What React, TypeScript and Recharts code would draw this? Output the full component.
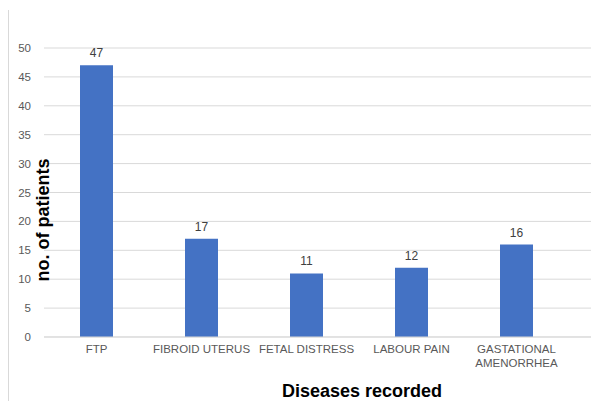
import React from 'react';
import { Bar, BarChart, CartesianGrid, LabelList, XAxis, YAxis } from 'recharts';

const diseases = ['FTP', 'FIBROID UTERUS', 'FETAL DISTRESS', 'LABOUR PAIN', 'GASTATIONAL\nAMENORRHEA'];
const patients = [47, 17, 11, 12, 16];
const yTicks = [0, 5, 10, 15, 20, 25, 30, 35, 40, 45, 50];

const data = diseases.map((name, i) => ({ name, value: patients[i] }));

const font = '"Liberation Sans", Arial, sans-serif';

const CategoryTick = (props: any) => {
    const { x, y, payload } = props;
    const lines = String(payload.value).split('\n');
    return (
        <text x={x} y={y} textAnchor="middle" fill="#595959" fontSize={11.5} fontFamily={font}>
            {lines.map((line, i) => (
                <tspan key={i} x={x} dy={i === 0 ? 8 : 14}>
                    {line}
                </tspan>
            ))}
        </text>
    );
};

export default function App() {
    return (
        <div
            style={{
                position: 'absolute',
                left: 0,
                top: 0,
                width: 591,
                height: 401,
                background: '#fff',
                overflow: 'hidden'
            }}
        >
            <div style={{ position: 'absolute', left: 8, top: 10, width: 1, height: 391, background: '#d9d9d9' }} />
            <BarChart
                width={591}
                height={401}
                data={data}
                margin={{ top: 48, right: 0, left: 0, bottom: 0 }}
            >
                <CartesianGrid vertical={false} stroke="#d9d9d9" />
                <XAxis
                    dataKey="name"
                    height={64}
                    padding={{ left: 0, right: 22 }}
                    tickLine={false}
                    axisLine={{ stroke: '#d9d9d9' }}
                    tick={<CategoryTick />}
                    interval={0}
                />
                <YAxis
                    width={44}
                    domain={[0, 50]}
                    ticks={yTicks}
                    tickLine={false}
                    axisLine={false}
                    tickSize={0}
                    tickMargin={13}
                    tick={{ fill: '#595959', fontSize: 11.5, fontFamily: font }}
                />
                <Bar dataKey="value" fill="#4472C4" barSize={33} isAnimationActive={false}>
                    <LabelList
                        dataKey="value"
                        position="top"
                        offset={8}
                        fill="#404040"
                        fontSize={12}
                        fontFamily={font}
                    />
                </Bar>
                <text
                    x={43}
                    y={220}
                    transform="rotate(-90 43 220)"
                    textAnchor="middle"
                    dominantBaseline="central"
                    fontSize={18}
                    fontWeight="bold"
                    fill="#000"
                    fontFamily={font}
                >
                    no. of patients
                </text>
                <text
                    x={362}
                    y={391}
                    textAnchor="middle"
                    dominantBaseline="central"
                    fontSize={18}
                    fontWeight="bold"
                    fill="#000"
                    fontFamily={font}
                >
                    Diseases recorded
                </text>
            </BarChart>
        </div>
    );
}
